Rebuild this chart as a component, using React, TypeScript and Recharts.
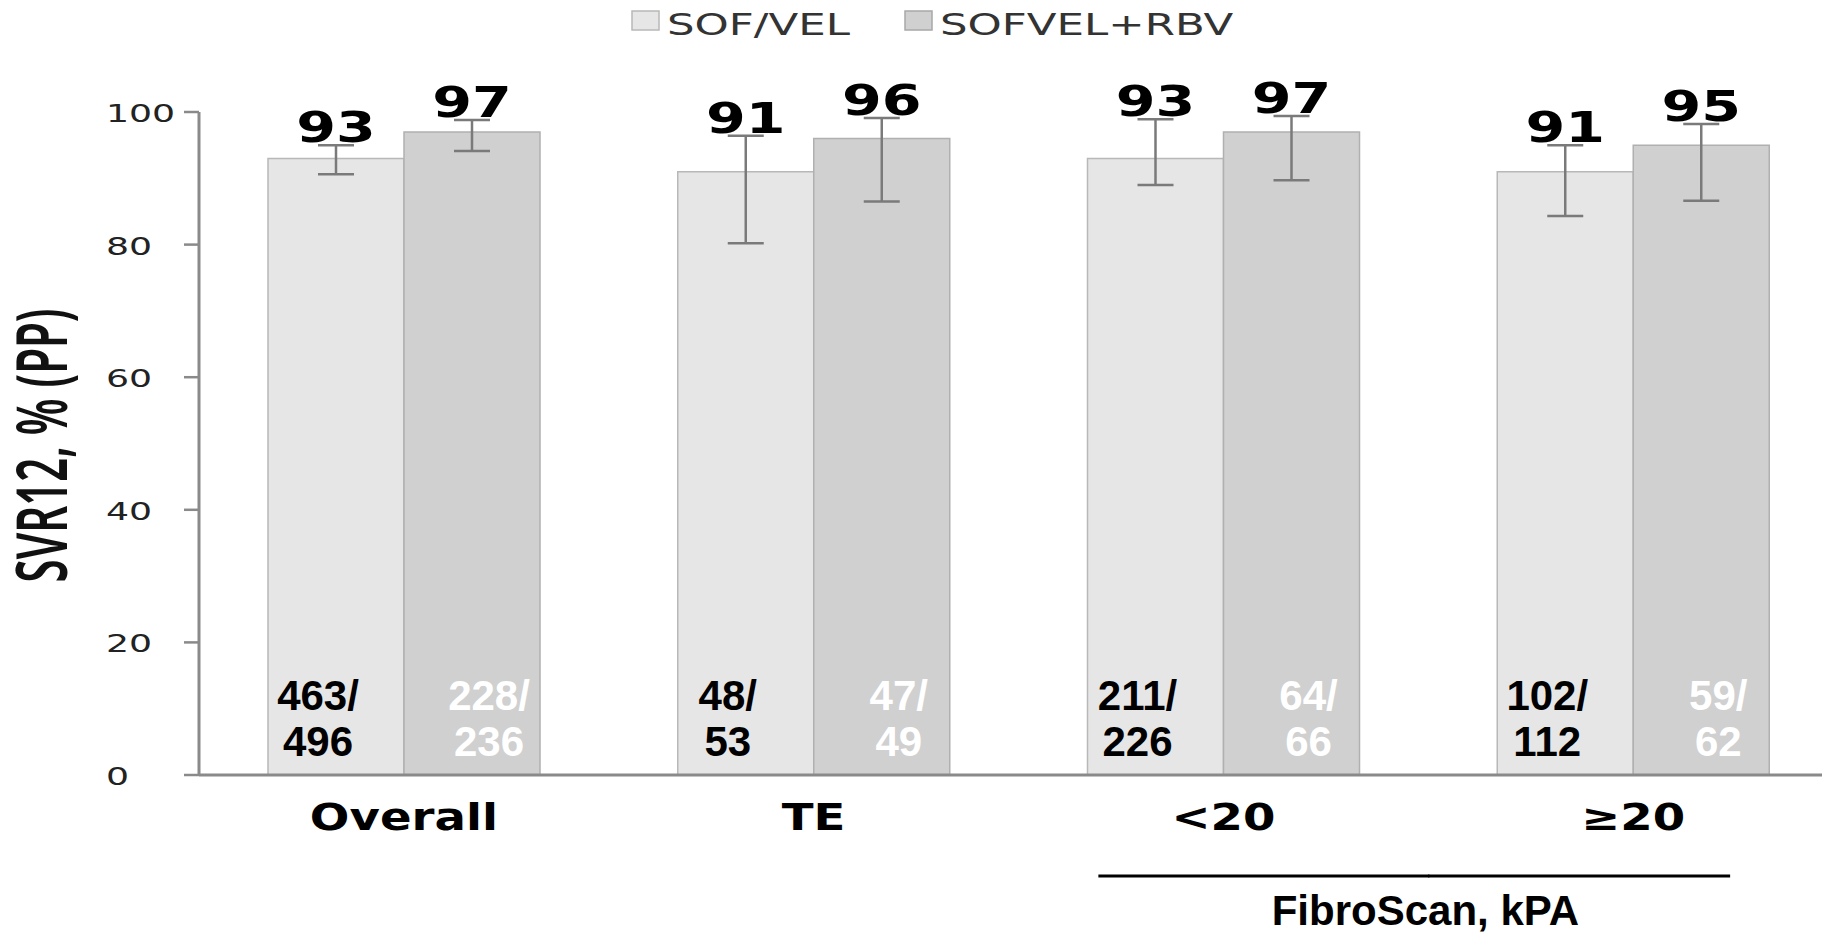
import React from 'react';
import { BarChart, Bar, XAxis, YAxis, ErrorBar, LabelList, Legend, Label } from 'recharts';

// SVR12 by subgroup, two treatment arms
const categories = ['Overall', 'TE', '<20', '≥20'];
const sofVel = [93, 91, 93, 91];
const sofVelRbv = [97, 96, 97, 95];
const sofVelLow = [90.6, 80.2, 89.0, 84.3];
const sofVelHigh = [95.0, 96.4, 98.9, 95.0];
const rbvLow = [94.1, 86.5, 89.7, 86.6];
const rbvHigh = [98.8, 99.1, 99.4, 98.2];
const sofVelN = ['463/496', '48/53', '211/226', '102/112'];
const rbvN = ['228/236', '47/49', '64/66', '59/62'];
const yTicks = [0, 20, 40, 60, 80, 100];
const fibroGroup = ['<20', '≥20'];
const fibroTitle = 'FibroScan, kPA';

const data = categories.map((name, i) => ({
  name,
  sof: sofVel[i],
  rbv: sofVelRbv[i],
  sofErr: [sofVel[i] - sofVelLow[i], sofVelHigh[i] - sofVel[i]],
  rbvErr: [sofVelRbv[i] - rbvLow[i], rbvHigh[i] - sofVelRbv[i]],
}));

const VERDANA = '"DejaVu Sans", Verdana, sans-serif';
const ARIAL = '"Liberation Sans", Arial, sans-serif';
const AXIS_GREY = '#8a8a8a';

// text drawn with a horizontal stretch around its anchor point
const StretchText = ({ x, y, sx = 1, sy = 1, rotate = 0, children, ...rest }: any) => (
  <text transform={`translate(${x},${y}) rotate(${rotate}) scale(${sx},${sy})`} x={0} y={0} {...rest}>
    {children}
  </text>
);

const makeValueLabel = (highs: number[]) => (props: any) => {
  const { x, y, width, height, value, index } = props;
  const perUnit = height / value;
  const yHi = y - (highs[index] - value) * perUnit;
  return (
    <StretchText
      x={x + width / 2}
      y={yHi - 3}
      sx={1.33}
      textAnchor="middle"
      fontFamily={VERDANA}
      fontWeight="bold"
      fontSize={43}
      fill="#000"
    >
      {value}
    </StretchText>
  );
};

const makeCountLabel = (counts: string[], dx: number, color: string) => (props: any) => {
  const { x, y, width, height, index } = props;
  const bottom = y + height;
  const [num, den] = counts[index].split('/');
  const cx = x + width / 2 + dx;
  return (
    <g fontFamily={ARIAL} fontWeight="bold" fontSize={42} fill={color} textAnchor="middle">
      <text x={cx} y={bottom - 65}>{num}/</text>
      <text x={cx} y={bottom - 19}>{den}</text>
    </g>
  );
};

const CategoryTick = (props: any) => {
  const { x, y, payload } = props;
  const value = payload.value;
  const gi = fibroGroup.indexOf(value);
  return (
    <g>
      <StretchText
        x={x}
        y={y + 47}
        sx={1.26}
        textAnchor="middle"
        fontFamily={VERDANA}
        fontWeight="bold"
        fontSize={37}
        fill="#000"
      >
        {value}
      </StretchText>
      {gi === 0 && (
        <>
          <line x1={x - 125} x2={x + 206} y1={y + 93} y2={y + 93} stroke="#000" strokeWidth={3} />
          <text x={x + 202} y={y + 142} textAnchor="middle" fontFamily={ARIAL} fontWeight="bold" fontSize={42} fill="#000">
            {fibroTitle}
          </text>
        </>
      )}
      {gi === fibroGroup.length - 1 && (
        <line x1={x - 205} x2={x + 97} y1={y + 93} y2={y + 93} stroke="#000" strokeWidth={3} />
      )}
    </g>
  );
};

const ValueTick = (props: any) => {
  const { y, payload } = props;
  return (
    <StretchText x={106} y={y + 10} sx={1.45} textAnchor="start" fontFamily={VERDANA} fontSize={25} fill="#222">
      {payload.value}
    </StretchText>
  );
};

const YTitle = (props: any) => {
  const { viewBox } = props;
  const cy = viewBox.y + viewBox.height / 2;
  return (
    <StretchText
      x={viewBox.x + 67}
      y={cy + 2}
      rotate={-90}
      sx={0.84}
      sy={1.42}
      textAnchor="middle"
      fontFamily='"Noto Sans", "Open Sans", sans-serif'
      fontWeight={600}
      fontSize={50}
      fill="#111"
    >
      SVR12, % (PP)
    </StretchText>
  );
};

const renderLegend = (props: any) => {
  const { payload = [] } = props;
  const strokes = ['#b8b8b8', '#a8a8a8'];
  return (
    <svg width={1822} height={50} style={{ display: 'block' }}>
      {payload.map((entry: any, i: number) => {
        const left = 632 + i * 273;
        return (
          <g key={entry.value}>
            <rect x={left} y={11} width={27} height={19} fill={entry.color} stroke={strokes[i]} strokeWidth={1.5} />
            <StretchText x={left + 35} y={35} sx={1.45} fontFamily={VERDANA} fontSize={30} fill="#333">
              {entry.value}
            </StretchText>
          </g>
        );
      })}
    </svg>
  );
};

export default function App() {
  return (
    <div style={{ position: 'absolute', left: 0, top: 0, width: 1822, height: 933, overflow: 'hidden', background: '#fff' }}>
      <BarChart
        width={1840}
        height={933}
        data={data}
        margin={{ top: 112, right: 2, bottom: 0, left: 0 }}
        barCategoryGap={69}
        barGap={0}
      >
        <XAxis
          dataKey="name"
          interval={0}
          height={158}
          tickLine={false}
          axisLine={{ stroke: AXIS_GREY, strokeWidth: 3 }}
          tick={<CategoryTick />}
        />
        <YAxis
          domain={[0, 100]}
          ticks={yTicks}
          width={199}
          tickSize={15}
          axisLine={{ stroke: AXIS_GREY, strokeWidth: 3 }}
          tickLine={{ stroke: AXIS_GREY, strokeWidth: 2.5 }}
          tick={<ValueTick />}
        >
          <Label content={<YTitle />} />
        </YAxis>
        <Legend verticalAlign="middle" align="center" wrapperStyle={{ top: 0, left: 0 }} content={renderLegend} />
        <Bar dataKey="sof" name="SOF/VEL" fill="#e6e6e6" stroke="#b8b8b8" strokeWidth={1.5} isAnimationActive={false}>
          <ErrorBar dataKey="sofErr" direction="y" width={18} stroke="#7a7a7a" strokeWidth={2.5} isAnimationActive={false} />
          <LabelList dataKey="sof" content={makeValueLabel(sofVelHigh)} />
          <LabelList dataKey="sof" content={makeCountLabel(sofVelN, -18, '#000')} />
        </Bar>
        <Bar dataKey="rbv" name="SOFVEL+RBV" fill="#d0d0d0" stroke="#b0b0b0" strokeWidth={1.5} isAnimationActive={false}>
          <ErrorBar dataKey="rbvErr" direction="y" width={18} stroke="#7a7a7a" strokeWidth={2.5} isAnimationActive={false} />
          <LabelList dataKey="rbv" content={makeValueLabel(rbvHigh)} />
          <LabelList dataKey="rbv" content={makeCountLabel(rbvN, 17, '#fff')} />
        </Bar>
      </BarChart>
    </div>
  );
}
